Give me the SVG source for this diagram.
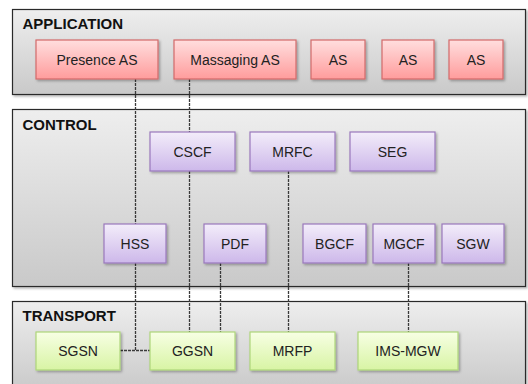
<svg xmlns="http://www.w3.org/2000/svg" width="528" height="384" viewBox="0 0 528 384">
<defs>
<linearGradient id="gPanel" x1="0" y1="0" x2="0" y2="1"><stop offset="0" stop-color="#eeeeee"/><stop offset="1" stop-color="#c9c9c9"/></linearGradient>
<linearGradient id="gPink" x1="0" y1="0" x2="0" y2="1"><stop offset="0" stop-color="#ffdede"/><stop offset="1" stop-color="#ff9c9c"/></linearGradient>
<linearGradient id="gPurple" x1="0" y1="0" x2="0" y2="1"><stop offset="0" stop-color="#f3edfa"/><stop offset="1" stop-color="#cdb8ea"/></linearGradient>
<linearGradient id="gGreen" x1="0" y1="0" x2="0" y2="1"><stop offset="0" stop-color="#f7ffe4"/><stop offset="1" stop-color="#d8f4a4"/></linearGradient>
<filter id="sh" x="-10%" y="-10%" width="130%" height="140%"><feDropShadow dx="1.5" dy="1.5" stdDeviation="1" flood-color="#000" flood-opacity="0.3"/></filter>
</defs>
<style>
.panel{fill:url(#gPanel);stroke:#2a2a2a;stroke-width:1.2;filter:url(#sh)}
.ptitle{font-family:"Liberation Sans",Arial,sans-serif;font-weight:bold;font-size:15px;fill:#111}
.pink{fill:url(#gPink);stroke:#d26a6a;stroke-width:1.2;filter:url(#sh)}
.purple{fill:url(#gPurple);stroke:#9a78bc;stroke-width:1.2;filter:url(#sh)}
.green{fill:url(#gGreen);stroke:#aed67a;stroke-width:1.2;filter:url(#sh)}
.lbl{font-family:"Liberation Sans",Arial,sans-serif;font-size:14px;fill:#222;text-anchor:middle}
.conn{fill:none;stroke:#3a3a3a;stroke-width:1.3;stroke-dasharray:3 1}
</style>
<rect width="528" height="384" fill="#ffffff"/>
<g id="panels">
<g id="application"><rect class="panel" x="12.5" y="9.5" width="513" height="85"/><text class="ptitle" x="22.5" y="28.5">APPLICATION</text></g>
<g id="control"><rect class="panel" x="12.5" y="109.5" width="513" height="177"/><text class="ptitle" x="22.5" y="129.5">CONTROL</text></g>
<g id="transport"><rect class="panel" x="12.5" y="301.5" width="513" height="90"/><text class="ptitle" x="22.5" y="321">TRANSPORT</text></g>
</g>
<g id="connectors">
<path class="conn" d="M135.5 79 V224 M135.5 263 V350.5 M120 350.5 H150"/>
<path class="conn" d="M189.5 79 V132 M189.5 171 V332"/>
<path class="conn" d="M220.5 263 V332"/>
<path class="conn" d="M288.5 171 V332"/>
<path class="conn" d="M408.5 263 V332"/>
</g>
<g id="presence-as"><rect class="pink" x="36" y="40" width="122" height="39"/><text class="lbl" x="97" y="64.5">Presence AS</text></g>
<g id="massaging-as"><rect class="pink" x="174" y="40" width="122" height="39"/><text class="lbl" x="235" y="64.5">Massaging AS</text></g>
<g id="as1"><rect class="pink" x="311" y="40" width="54" height="39"/><text class="lbl" x="338" y="64.5">AS</text></g>
<g id="as2"><rect class="pink" x="382" y="40" width="52" height="39"/><text class="lbl" x="408" y="64.5">AS</text></g>
<g id="as3"><rect class="pink" x="449" y="40" width="54" height="39"/><text class="lbl" x="476" y="64.5">AS</text></g>
<g id="cscf"><rect class="purple" x="150" y="132" width="85" height="39"/><text class="lbl" x="192.5" y="156.5">CSCF</text></g>
<g id="mrfc"><rect class="purple" x="250" y="132" width="85" height="39"/><text class="lbl" x="292.5" y="156.5">MRFC</text></g>
<g id="seg"><rect class="purple" x="350" y="132" width="85" height="39"/><text class="lbl" x="392.5" y="156.5">SEG</text></g>
<g id="hss"><rect class="purple" x="104" y="224" width="62" height="39"/><text class="lbl" x="135" y="248.5">HSS</text></g>
<g id="pdf"><rect class="purple" x="204" y="224" width="62" height="39"/><text class="lbl" x="235" y="248.5">PDF</text></g>
<g id="bgcf"><rect class="purple" x="303" y="224" width="63" height="39"/><text class="lbl" x="334.5" y="248.5">BGCF</text></g>
<g id="mgcf"><rect class="purple" x="373" y="224" width="62" height="39"/><text class="lbl" x="404" y="248.5">MGCF</text></g>
<g id="sgw"><rect class="purple" x="442" y="224" width="62" height="39"/><text class="lbl" x="473" y="248.5">SGW</text></g>
<g id="sgsn"><rect class="green" x="36" y="332" width="84" height="38"/><text class="lbl" x="78" y="356">SGSN</text></g>
<g id="ggsn"><rect class="green" x="150" y="332" width="85" height="38"/><text class="lbl" x="192.5" y="356">GGSN</text></g>
<g id="mrfp"><rect class="green" x="250" y="332" width="85" height="38"/><text class="lbl" x="292.5" y="356">MRFP</text></g>
<g id="ims-mgw"><rect class="green" x="358" y="332" width="100" height="38"/><text class="lbl" x="408" y="356">IMS-MGW</text></g>
</svg>
